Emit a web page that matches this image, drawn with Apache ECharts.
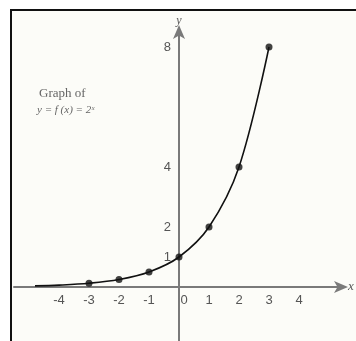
<!DOCTYPE html>
<html>
<head>
<meta charset="utf-8">
<script src="https://cdn.jsdelivr.net/npm/echarts@6/dist/echarts.min.js"></script>
<style>
  html, body { margin: 0; padding: 0; background: #ffffff; }
  #chart { width: 356px; height: 341px; }
</style>
</head>
<body>
<div id="chart"></div>
<script>
// Points of y = 2^x marked with dots
const dotX = [-3, -2, -1, 0, 1, 2, 3];
const dotY = [0.125, 0.25, 0.5, 1, 2, 4, 8];
// Curve samples, including its left tail
const curveX = [-4.8, -4, -3, -2, -1, 0, 1, 2, 3];
const curveY = [0.036, 0.0625, 0.125, 0.25, 0.5, 1, 2, 4, 8];
// Tick labels shown on each axis
const xTickLabels = [-4, -3, -2, -1, 0, 1, 2, 3, 4];
const yTickLabels = [1, 2, 4, 8];

// Axis ranges; the axes cross at the origin
const xMin = -5.5, xMax = 5.5;
const yMin = -2, yMax = 8.6;
const unit = 30; // pixels per unit on both axes
const gridLeft = 14, gridTop = 29;
const gridWidth = (xMax - xMin) * unit;
const gridHeight = (yMax - yMin) * unit;

const chart = echarts.init(document.getElementById('chart'));
const gray = '#7a7a7a';
const labelColor = '#555555';

chart.setOption({
  backgroundColor: '#ffffff',
  animation: false,
  graphic: [
    { type: 'rect', shape: { x: 11, y: 10, width: 345, height: 331 }, style: { fill: '#fcfcf8' }, z: -10 },
    { type: 'polyline', shape: { points: [[11, 341], [11, 10], [356, 10]] }, style: { stroke: '#111', lineWidth: 2, fill: null } },
    {
      type: 'text', left: 39, top: 87,
      style: { text: 'Graph of', font: '13px "Liberation Serif", serif', fill: '#666' }
    },
    {
      type: 'text', left: 37, top: 105,
      style: { text: 'y = f (x) = 2ˣ', font: 'italic 11px "Liberation Serif", serif', fill: '#666' }
    }
  ],
  grid: {
    left: gridLeft, top: gridTop, width: gridWidth, height: gridHeight,
    containLabel: false, outerBoundsMode: 'none'
  },
  xAxis: {
    type: 'value', min: xMin, max: xMax, interval: 0.5,
    position: 'bottom', offset: -(0 - yMin) * unit,
    name: 'x', nameGap: 4,
    nameTextStyle: { color: labelColor, fontSize: 13, fontStyle: 'italic', fontFamily: 'Liberation Serif' },
    axisLine: { onZero: false, lineStyle: { color: gray, width: 2 }, symbol: ['none', 'arrow'], symbolSize: [9, 14], symbolOffset: [0, 4] },
    axisTick: { show: false },
    splitLine: { show: false },
    axisLabel: {
      color: labelColor, fontSize: 13, fontFamily: 'Liberation Sans', margin: 7,
      formatter: v => {
        if (!xTickLabels.includes(v)) return '';
        return v === 0 ? '{z|0}' : String(v);
      },
      rich: { z: { color: labelColor, fontSize: 13, fontFamily: 'Liberation Sans', padding: [0, 0, 0, 10] } }
    }
  },
  yAxis: {
    type: 'value', min: yMin, max: yMax, interval: 1,
    position: 'left', offset: -(0 - xMin) * unit,
    name: 'y', nameGap: 2,
    nameTextStyle: { color: labelColor, fontSize: 12, fontStyle: 'italic', fontFamily: 'Liberation Serif' },
    axisLine: { onZero: false, lineStyle: { color: gray, width: 2 }, symbol: ['none', 'arrow'], symbolSize: [9, 14], symbolOffset: [0, 4] },
    axisTick: { show: false },
    splitLine: { show: false },
    axisLabel: {
      color: labelColor, fontSize: 13, fontFamily: 'Liberation Sans', margin: 8,
      formatter: v => yTickLabels.includes(v) ? String(v) : ''
    }
  },
  series: [
    {
      type: 'line', smooth: 0.35, showSymbol: false, silent: true,
      data: curveX.map((x, i) => [x, curveY[i]]),
      lineStyle: { color: '#111', width: 1.6 }
    },
    {
      type: 'scatter', symbolSize: 7, silent: true,
      data: dotX.map((x, i) => [x, dotY[i]]),
      itemStyle: { color: '#111' }
    }
  ]
});
</script>
</body>
</html>
